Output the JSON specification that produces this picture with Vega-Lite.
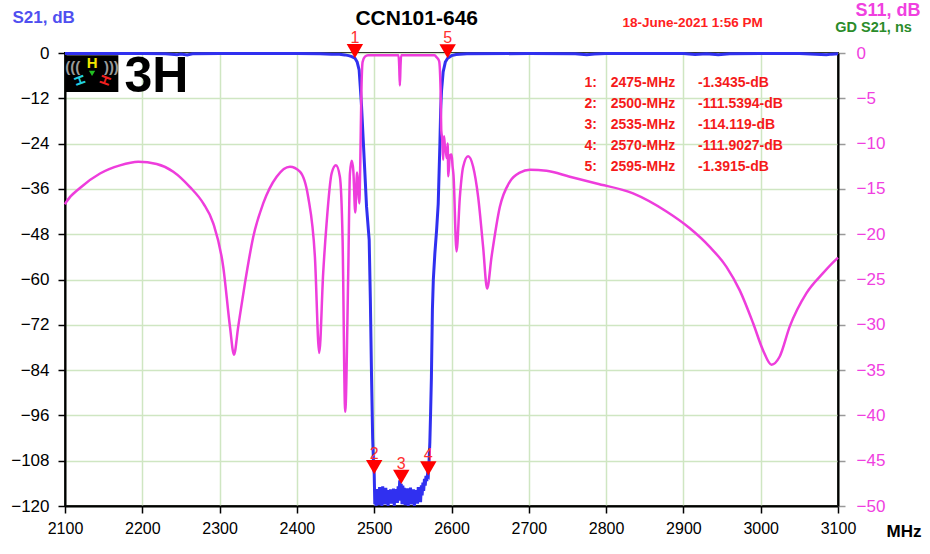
{
  "$schema": "https://vega.github.io/schema/vega-lite/v6.json",
  "width": 773,
  "height": 453,
  "autosize": {"type": "none"},
  "padding": {"left": 65, "top": 53, "right": 92, "bottom": 48},
  "background": "white",
  "config": {
    "font": "Liberation Sans",
    "view": {"stroke": "black", "strokeWidth": 2},
    "axis": {"labelFont": "Liberation Sans", "titleFont": "Liberation Sans"}
  },
  "datasets": {
    "s21": [
      {"freq": 2100, "s21": -0.15}, {"freq": 2150, "s21": -0.1}, {"freq": 2200, "s21": -0.15}, {"freq": 2230, "s21": -0.2},
      {"freq": 2245, "s21": -0.45}, {"freq": 2250, "s21": -0.3}, {"freq": 2258, "s21": -0.5}, {"freq": 2265, "s21": -0.2},
      {"freq": 2300, "s21": -0.15}, {"freq": 2350, "s21": -0.1}, {"freq": 2400, "s21": -0.15}, {"freq": 2430, "s21": -0.2},
      {"freq": 2445, "s21": -0.3}, {"freq": 2455, "s21": -0.35}, {"freq": 2462, "s21": -0.5}, {"freq": 2467, "s21": -0.7},
      {"freq": 2471, "s21": -0.95}, {"freq": 2475, "s21": -1.34}, {"freq": 2478, "s21": -2.4}, {"freq": 2480.5, "s21": -4.5},
      {"freq": 2482, "s21": -9}, {"freq": 2483.6, "s21": -14}, {"freq": 2485.8, "s21": -23}, {"freq": 2488, "s21": -32},
      {"freq": 2490.1, "s21": -40.7}, {"freq": 2493.5, "s21": -49.5}, {"freq": 2495, "s21": -65}, {"freq": 2496.5, "s21": -85},
      {"freq": 2498, "s21": -102}, {"freq": 2499.2, "s21": -109}, {"freq": 2500, "s21": -111.5},
      {"freq": 2500.8, "s21": -119.5}, {"freq": 2501.6, "s21": -116}, {"freq": 2502.4, "s21": -120}, {"freq": 2503.2, "s21": -115.5},
      {"freq": 2504, "s21": -118.5}, {"freq": 2505, "s21": -116.2}, {"freq": 2506, "s21": -119.8}, {"freq": 2507, "s21": -115},
      {"freq": 2508, "s21": -117.6}, {"freq": 2509, "s21": -116}, {"freq": 2510, "s21": -120}, {"freq": 2511, "s21": -114.8},
      {"freq": 2512, "s21": -118}, {"freq": 2513, "s21": -116.5}, {"freq": 2514, "s21": -119.6}, {"freq": 2515, "s21": -115.2},
      {"freq": 2516, "s21": -117.4}, {"freq": 2517, "s21": -115.8}, {"freq": 2518, "s21": -120}, {"freq": 2519, "s21": -116.4},
      {"freq": 2520, "s21": -118.8}, {"freq": 2521, "s21": -115.6}, {"freq": 2522, "s21": -119.4}, {"freq": 2523, "s21": -116.8},
      {"freq": 2524, "s21": -117.5}, {"freq": 2525, "s21": -115.4}, {"freq": 2526, "s21": -120}, {"freq": 2527, "s21": -116},
      {"freq": 2528, "s21": -118.2}, {"freq": 2529, "s21": -115.5}, {"freq": 2530, "s21": -119.2}, {"freq": 2531, "s21": -114.8},
      {"freq": 2532, "s21": -117.4}, {"freq": 2533, "s21": -113.2}, {"freq": 2534, "s21": -118.6}, {"freq": 2535, "s21": -114.1},
      {"freq": 2536, "s21": -119.5}, {"freq": 2537, "s21": -114.6}, {"freq": 2538, "s21": -117}, {"freq": 2539, "s21": -115.2},
      {"freq": 2540, "s21": -119.8}, {"freq": 2541, "s21": -116}, {"freq": 2542, "s21": -118.4}, {"freq": 2543, "s21": -115.3},
      {"freq": 2544, "s21": -120}, {"freq": 2545, "s21": -116.6}, {"freq": 2546, "s21": -117.8}, {"freq": 2547, "s21": -115.1},
      {"freq": 2548, "s21": -119.6}, {"freq": 2549, "s21": -116.2}, {"freq": 2550, "s21": -118}, {"freq": 2551, "s21": -115.6},
      {"freq": 2552, "s21": -120}, {"freq": 2553, "s21": -115.8}, {"freq": 2554, "s21": -117.6}, {"freq": 2555, "s21": -116.4},
      {"freq": 2556, "s21": -119.4}, {"freq": 2557, "s21": -115}, {"freq": 2558, "s21": -118.2}, {"freq": 2559, "s21": -116.8},
      {"freq": 2560, "s21": -119}, {"freq": 2561, "s21": -114.5}, {"freq": 2562, "s21": -117.2}, {"freq": 2563, "s21": -113.8},
      {"freq": 2564, "s21": -116}, {"freq": 2565, "s21": -112.8}, {"freq": 2566, "s21": -114.6}, {"freq": 2567, "s21": -112},
      {"freq": 2568, "s21": -113.4}, {"freq": 2569, "s21": -111.6}, {"freq": 2570, "s21": -111.9},
      {"freq": 2571, "s21": -108}, {"freq": 2572, "s21": -103}, {"freq": 2573, "s21": -95}, {"freq": 2574, "s21": -86},
      {"freq": 2575.3, "s21": -68}, {"freq": 2576.5, "s21": -60}, {"freq": 2578.5, "s21": -53}, {"freq": 2580.7, "s21": -47},
      {"freq": 2582.8, "s21": -40}, {"freq": 2585, "s21": -24}, {"freq": 2586, "s21": -15}, {"freq": 2587.1, "s21": -10},
      {"freq": 2589.2, "s21": -5}, {"freq": 2592, "s21": -2.4}, {"freq": 2595, "s21": -1.39}, {"freq": 2600, "s21": -0.7},
      {"freq": 2606, "s21": -0.4}, {"freq": 2620, "s21": -0.2}, {"freq": 2700, "s21": -0.15}, {"freq": 2760, "s21": -0.2},
      {"freq": 2775, "s21": -0.45}, {"freq": 2785, "s21": -0.25}, {"freq": 2800, "s21": -0.15}, {"freq": 2900, "s21": -0.15},
      {"freq": 2915, "s21": -0.4}, {"freq": 2930, "s21": -0.2}, {"freq": 2945, "s21": -0.45}, {"freq": 2960, "s21": -0.2},
      {"freq": 3000, "s21": -0.15}, {"freq": 3050, "s21": -0.1}, {"freq": 3085, "s21": -0.45}, {"freq": 3092, "s21": -0.3},
      {"freq": 3100, "s21": -0.2}
    ],
    "s11": [
      {"freq": 2100, "s11": -16.7}, {"freq": 2101.3, "s11": -16.5}, {"freq": 2119.4, "s11": -14.9}, {"freq": 2145.3, "s11": -13.3},
      {"freq": 2171.1, "s11": -12.4}, {"freq": 2194.8, "s11": -12.0}, {"freq": 2218.6, "s11": -12.25}, {"freq": 2240.1, "s11": -13.1},
      {"freq": 2261.7, "s11": -14.8}, {"freq": 2278.9, "s11": -16.6}, {"freq": 2291.8, "s11": -18.8}, {"freq": 2304.7, "s11": -23.6},
      {"freq": 2313.4, "s11": -30.2}, {"freq": 2318.6, "s11": -33.3}, {"freq": 2324.1, "s11": -30.2}, {"freq": 2332.8, "s11": -25.4},
      {"freq": 2343.5, "s11": -20.3}, {"freq": 2356.4, "s11": -16.6}, {"freq": 2373.8, "s11": -13.65}, {"freq": 2391, "s11": -12.55},
      {"freq": 2403.9, "s11": -13.1}, {"freq": 2414.6, "s11": -15.9}, {"freq": 2423.3, "s11": -22.5}, {"freq": 2428.9, "s11": -33.1},
      {"freq": 2434, "s11": -24.3}, {"freq": 2438.4, "s11": -18.8}, {"freq": 2444.9, "s11": -13.3}, {"freq": 2450.5, "s11": -12.4},
      {"freq": 2455.6, "s11": -13.65}, {"freq": 2459.1, "s11": -20.6}, {"freq": 2462.5, "s11": -39.6}, {"freq": 2466.4, "s11": -24.3},
      {"freq": 2468.6, "s11": -13.3}, {"freq": 2471, "s11": -11.9}, {"freq": 2473, "s11": -13.0}, {"freq": 2475.5, "s11": -17.6},
      {"freq": 2477.8, "s11": -13.2}, {"freq": 2479, "s11": -14.5}, {"freq": 2480.8, "s11": -16.6}, {"freq": 2482, "s11": -12},
      {"freq": 2483.5, "s11": -4}, {"freq": 2485, "s11": -1.0}, {"freq": 2488, "s11": -0.4}, {"freq": 2492, "s11": -0.25},
      {"freq": 2531.5, "s11": -0.25}, {"freq": 2532.4, "s11": -1.5}, {"freq": 2533.2, "s11": -3.6}, {"freq": 2534, "s11": -1.5},
      {"freq": 2534.9, "s11": -0.25}, {"freq": 2578, "s11": -0.25}, {"freq": 2581, "s11": -0.5}, {"freq": 2584, "s11": -0.9},
      {"freq": 2585.9, "s11": -4.1}, {"freq": 2586.8, "s11": -8.6}, {"freq": 2588, "s11": -9.5}, {"freq": 2589.2, "s11": -11.8},
      {"freq": 2590.4, "s11": -9.2}, {"freq": 2591.6, "s11": -10.5}, {"freq": 2592.7, "s11": -10.8}, {"freq": 2593.8, "s11": -11.6},
      {"freq": 2595, "s11": -10.0}, {"freq": 2595.9, "s11": -13.6}, {"freq": 2597.9, "s11": -11.3}, {"freq": 2600.1, "s11": -11.2},
      {"freq": 2601.4, "s11": -12.5}, {"freq": 2602.6, "s11": -13.5}, {"freq": 2606.5, "s11": -21.9}, {"freq": 2610.8, "s11": -15.9},
      {"freq": 2615.1, "s11": -12.55}, {"freq": 2621.5, "s11": -11.4}, {"freq": 2628, "s11": -12.55}, {"freq": 2634.5, "s11": -15.9},
      {"freq": 2640.9, "s11": -21.4}, {"freq": 2646.1, "s11": -26.0}, {"freq": 2651.8, "s11": -22.5}, {"freq": 2662.5, "s11": -17.0},
      {"freq": 2675.5, "s11": -14.2}, {"freq": 2688.4, "s11": -13.2}, {"freq": 2701.4, "s11": -12.9}, {"freq": 2722.9, "s11": -13.0},
      {"freq": 2753, "s11": -13.65}, {"freq": 2787.6, "s11": -14.4}, {"freq": 2834.9, "s11": -15.5}, {"freq": 2878.1, "s11": -17.5},
      {"freq": 2908.3, "s11": -19.35}, {"freq": 2934.1, "s11": -21.4}, {"freq": 2955.7, "s11": -23.6}, {"freq": 2972.9, "s11": -26.2},
      {"freq": 2990.1, "s11": -29.8}, {"freq": 3003, "s11": -32.8}, {"freq": 3013.9, "s11": -34.4}, {"freq": 3024.6, "s11": -33.5},
      {"freq": 3037.5, "s11": -30.2}, {"freq": 3059.2, "s11": -26.5}, {"freq": 3080.6, "s11": -24.3}, {"freq": 3098.7, "s11": -22.7},
      {"freq": 3100, "s11": -22.6}
    ],
    "markers": [
      {"marker": 1, "freq": 2475, "s21": -1.3435},
      {"marker": 2, "freq": 2500, "s21": -111.5394},
      {"marker": 3, "freq": 2535, "s21": -114.119},
      {"marker": 4, "freq": 2570, "s21": -111.9027},
      {"marker": 5, "freq": 2595, "s21": -1.3915}
    ]
  },
  "layer": [
    {
      "layer": [
        {
          "data": {"values": [{}]},
          "mark": {"type": "rect", "color": "black"},
          "encoding": {"x": {"datum": 2100}, "x2": {"datum": 2169}, "y": {"datum": -0.6}, "y2": {"datum": -10.3}}
        },
        {
          "data": {"values": [{"t": "(((", "f": 2110, "v": -3.6}, {"t": ")))", "f": 2160, "v": -3.6}]},
          "mark": {"type": "text", "color": "#9a9a9a", "fontSize": 15, "fontWeight": "bold", "baseline": "middle"},
          "encoding": {"x": {"field": "f", "type": "quantitative"}, "y": {"field": "v", "type": "quantitative"}, "text": {"field": "t"}}
        },
        {
          "data": {"values": [{}]},
          "mark": {"type": "text", "text": "H", "color": "#f2e600", "fontSize": 15, "fontWeight": "bold", "baseline": "middle"},
          "encoding": {"x": {"datum": 2135}, "y": {"datum": -2.6}}
        },
        {
          "data": {"values": [{}]},
          "mark": {"type": "text", "text": "H", "color": "#22d0e0", "fontSize": 14, "fontWeight": "bold", "baseline": "middle", "angle": 70},
          "encoding": {"x": {"datum": 2118}, "y": {"datum": -7.3}}
        },
        {
          "data": {"values": [{}]},
          "mark": {"type": "text", "text": "H", "color": "#f02020", "fontSize": 14, "fontWeight": "bold", "baseline": "middle", "angle": -70},
          "encoding": {"x": {"datum": 2153}, "y": {"datum": -7.3}}
        },
        {
          "data": {"values": [{}]},
          "mark": {"type": "point", "shape": "triangle-down", "filled": true, "color": "#22c022", "size": 40, "opacity": 1},
          "encoding": {"x": {"datum": 2135}, "y": {"datum": -5.4}}
        },
        {
          "data": {"values": [{}]},
          "mark": {"type": "text", "text": "3H", "color": "black", "fontSize": 50, "fontWeight": "bold", "align": "left", "baseline": "alphabetic"},
          "encoding": {"x": {"datum": 2177}, "y": {"datum": -10.3}}
        },
        {
          "data": {"name": "s21"},
          "mark": {"type": "line", "color": "#3030f0", "strokeWidth": 3},
          "encoding": {
            "x": {
              "field": "freq", "type": "quantitative",
              "scale": {"domain": [2100, 3100], "nice": false, "zero": false},
              "axis": {
                "values": [2100, 2200, 2300, 2400, 2500, 2600, 2700, 2800, 2900, 3000, 3100],
                "format": "d",
                "grid": true, "gridColor": "#cfe6c2", "gridWidth": 1.5,
                "domainColor": "black", "domainWidth": 2,
                "tickColor": "black", "tickSize": 7, "tickWidth": 1.5,
                "labelFontSize": 16, "labelColor": "black", "labelPadding": 7, "labelFlush": false,
                "title": "MHz", "titleFontSize": 17, "titleFontWeight": "bold", "titleColor": "black",
                "titleAngle": 0, "titleAlign": "left", "titleBaseline": "middle", "titleX": 821, "titleY": 25
              }
            },
            "y": {
              "field": "s21", "type": "quantitative",
              "scale": {"domain": [-120, 0], "nice": false, "zero": false},
              "axis": {
                "orient": "left",
                "values": [0, -12, -24, -36, -48, -60, -72, -84, -96, -108, -120],
                "grid": true, "gridColor": "#cfe6c2", "gridWidth": 1.5,
                "domainColor": "black", "domainWidth": 2,
                "tickColor": "black", "tickSize": 7, "tickWidth": 1.5,
                "labelFontSize": 17, "labelColor": "black", "labelPadding": 9,
                "title": "S21, dB", "titleFontSize": 17, "titleFontWeight": "bold", "titleColor": "#4f4ff0",
                "titleAngle": 0, "titleAlign": "left", "titleBaseline": "middle", "titleX": -53, "titleY": -36
              }
            }
          }
        },
        {
          "data": {"values": [{}]},
          "mark": {"type": "text", "text": "CCN101-646", "color": "black", "fontSize": 21, "fontWeight": "bold", "baseline": "middle"},
          "encoding": {"x": {"datum": 2555}, "y": {"datum": 9.0}}
        },
        {
          "data": {"values": [{}]},
          "mark": {"type": "text", "text": "18-June-2021 1:56 PM", "color": "#ff2020", "fontSize": 13.5, "fontWeight": "bold", "baseline": "middle"},
          "encoding": {"x": {"datum": 2912}, "y": {"datum": 8.0}}
        },
        {
          "data": {"values": [{}]},
          "mark": {"type": "text", "text": "GD  S21, ns", "color": "#2a8c2a", "fontSize": 14.5, "fontWeight": "bold", "baseline": "middle"},
          "encoding": {"x": {"datum": 3146}, "y": {"datum": 6.6}}
        }
      ]
    },
    {
      "data": {"name": "s11"},
      "mark": {"type": "line", "color": "#ee3ddc", "strokeWidth": 2.5, "interpolate": "monotone"},
      "encoding": {
        "x": {"field": "freq", "type": "quantitative"},
        "y": {
          "field": "s11", "type": "quantitative",
          "scale": {"domain": [-50, 0], "nice": false, "zero": false},
          "axis": {
            "orient": "right",
            "values": [0, -5, -10, -15, -20, -25, -30, -35, -40, -45, -50],
            "grid": false,
            "domainColor": "black", "domainWidth": 2,
            "tickColor": "#999999", "tickSize": 7, "tickWidth": 1.5,
            "labelFontSize": 17, "labelColor": "#f040e0", "labelPadding": 11,
            "title": "S11, dB", "titleFontSize": 18, "titleFontWeight": "bold", "titleColor": "#f040e0",
            "titleAngle": 0, "titleAlign": "left", "titleBaseline": "middle", "titleX": 17, "titleY": -43
          }
        }
      }
    },
    {
      "data": {"name": "markers"},
      "layer": [
        {
          "mark": {"type": "point", "shape": "triangle-down", "filled": true, "color": "#ff0000", "size": 270, "opacity": 1, "yOffset": -7},
          "encoding": {
            "x": {"field": "freq", "type": "quantitative"},
            "y": {"field": "s21", "type": "quantitative", "scale": {"domain": [-120, 0], "nice": false, "zero": false}, "axis": null}
          }
        },
        {
          "mark": {"type": "text", "color": "#ff3030", "fontSize": 16, "baseline": "middle", "dy": -20},
          "encoding": {
            "x": {"field": "freq", "type": "quantitative"},
            "y": {"field": "s21", "type": "quantitative", "scale": {"domain": [-120, 0], "nice": false, "zero": false}, "axis": null},
            "text": {"field": "marker"}
          }
        }
      ]
    },
    {
      "data": {"name": "markers"},
      "transform": [
        {"calculate": "datum.marker + ':'", "as": "idxLabel"},
        {"calculate": "datum.freq + '-MHz'", "as": "freqLabel"},
        {"calculate": "datum.s21 + '-dB'", "as": "valLabel"}
      ],
      "encoding": {
        "y": {"field": "marker", "type": "quantitative", "scale": {"domain": [-0.4286, 21.16], "reverse": true, "nice": false, "zero": false}, "axis": null}
      },
      "layer": [
        {
          "mark": {"type": "text", "color": "#f51a1a", "fontSize": 14, "fontWeight": "bold", "align": "left", "baseline": "middle"},
          "encoding": {"x": {"datum": 2772}, "text": {"field": "idxLabel"}}
        },
        {
          "mark": {"type": "text", "color": "#f51a1a", "fontSize": 14, "fontWeight": "bold", "align": "left", "baseline": "middle"},
          "encoding": {"x": {"datum": 2806}, "text": {"field": "freqLabel"}}
        },
        {
          "mark": {"type": "text", "color": "#f51a1a", "fontSize": 14, "fontWeight": "bold", "align": "left", "baseline": "middle"},
          "encoding": {"x": {"datum": 2919}, "text": {"field": "valLabel"}}
        }
      ]
    }
  ],
  "resolve": {"scale": {"y": "independent"}, "axis": {"y": "independent"}}
}
